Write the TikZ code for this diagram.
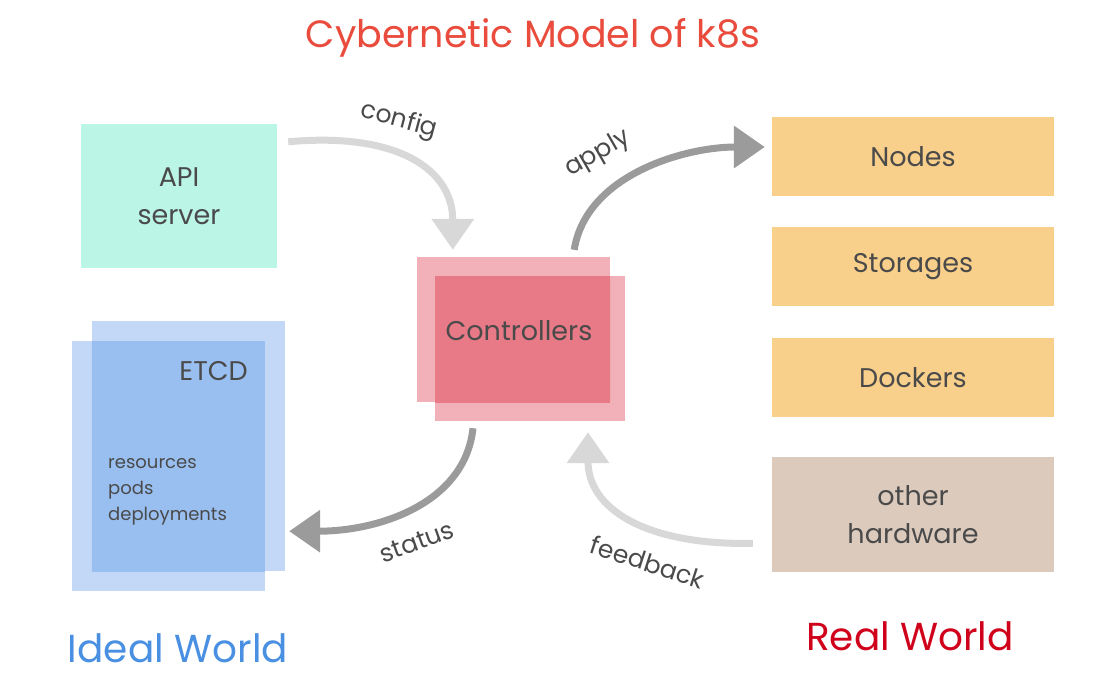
\documentclass[tikz,border=0pt]{standalone}
\usepackage{fontspec}
\setmainfont{Poppins}
\usepackage{xcolor}
\usepackage{tikz}
\usetikzlibrary{arrows.meta,positioning,calc}
\definecolor{textgrey}{HTML}{4A4A4A}
\definecolor{titlered}{HTML}{E94B3C}
\definecolor{idealblue}{HTML}{4A90E2}
\definecolor{realred}{HTML}{D0021B}
\definecolor{apiteal}{HTML}{BAF5E6}
\definecolor{etcdlight}{HTML}{C2D8F6}
\definecolor{etcddark}{HTML}{98BFF0}
\definecolor{ctrllight}{HTML}{F2B1B9}
\definecolor{ctrldark}{HTML}{E77A86}
\definecolor{hworange}{HTML}{F9D08B}
\definecolor{hwbeige}{HTML}{DCCABD}
\definecolor{arrowlight}{HTML}{D8D8D8}
\definecolor{arrowdark}{HTML}{9B9B9B}

\begin{document}
\begin{tikzpicture}[
    x=1pt, y=-1pt,
    node distance=31pt,
    box/.style={rectangle, inner sep=0pt, align=center, text=textgrey, font=\fontsize{27}{38}\selectfont},
    hwbox/.style={box, fill=hworange, minimum width=282pt, minimum height=79pt},
    panel/.style={rectangle, inner sep=0pt},
    lbl/.style={text=textgrey, font=\fontsize{25}{28}\selectfont},
    world/.style={font=\fontsize{39}{44}\selectfont},
    flow/.style={line width=7pt, -{Triangle[length=31pt, width=41pt]}},
    feed/.style={flow, arrowlight},
    act/.style={flow, arrowdark}
]
    \useasboundingbox (0,0) rectangle (1100,700);

    \node[text=titlered, font=\fontsize{38}{44}\selectfont] (title) at (533,38) {Cybernetic Model of k8s};

    % ideal world
    \node[box, fill=apiteal, minimum width=196pt, minimum height=144pt] (api) at (179,196) {API\\server};
    \node[panel, fill=etcdlight, minimum width=193pt, minimum height=250pt] (etcdback) at (188.5,446) {};
    \node[panel, fill=etcdlight, minimum width=193pt, minimum height=250pt] (etcdfront) at (168.5,466) {};
    \begin{scope}
        \clip (etcdback.north west) rectangle (etcdback.south east);
        \fill[etcddark] (etcdfront.north west) rectangle (etcdfront.south east);
    \end{scope}
    \node[box, anchor=base east] (etcd) at (248,381) {ETCD};
    \node[box, anchor=north west, align=left, font=\fontsize{18}{26}\selectfont] (etcdlist) at (108,458) {resources\\pods\\deployments};

    % controllers
    \node[panel, fill=ctrllight, minimum width=193pt, minimum height=145pt] (ctrlback) at (513.5,329.5) {};
    \node[panel, fill=ctrllight, minimum width=190pt, minimum height=145pt] (ctrlfront) at (530,348.5) {};
    \begin{scope}
        \clip (ctrlback.north west) rectangle (ctrlback.south east);
        \fill[ctrldark] (ctrlfront.north west) rectangle (ctrlfront.south east);
    \end{scope}
    \node[box] (ctrl) at (519,331) {Controllers};

    % real world
    \node[hwbox] (nodes) at (913,156.5) {Nodes};
    \node[hwbox, below=of nodes] (storages) {Storages};
    \node[hwbox, below=of storages] (dockers) {Dockers};
    \node[box, fill=hwbeige, minimum width=282pt, minimum height=115pt, below=40pt of dockers] (other) {other\\hardware};

    \node[world, text=idealblue] (ideal) at (178,648) {Ideal World};
    \node[world, text=realred] (real) at (910,636) {Real World};

    % loops
    \draw[feed] ([shift={(11,18)}]api.north east) .. controls +(110,-10) and +(0,-80) .. ([shift={(36,-7)}]ctrlback.north west);
    \draw[act] ([shift={(-36,-7)}]ctrlback.north east) .. controls +(12,-75) and +(-80,0) .. ([shift={(-7,-9.5)}]nodes.west);
    \draw[act] ([shift={(-57,7)}]ctrlfront.south) .. controls +(-8,75) and +(90,0) .. ([shift={(4,-40)}]etcdback.south east);
    \draw[feed] ([shift={(-19,-29)}]other.south west) .. controls +(-110,2) and +(0,75) .. ([shift={(58,11)}]ctrlfront.south);

    \node[lbl, rotate=-15] (cfglbl) at (399,121) {config};
    \node[lbl, rotate=30] (applylbl) at (598,154) {apply};
    \node[lbl, rotate=20] (statuslbl) at (417,542) {status};
    \node[lbl, rotate=-18] (feedlbl) at (648,562) {feedback};
\end{tikzpicture}
\end{document}
